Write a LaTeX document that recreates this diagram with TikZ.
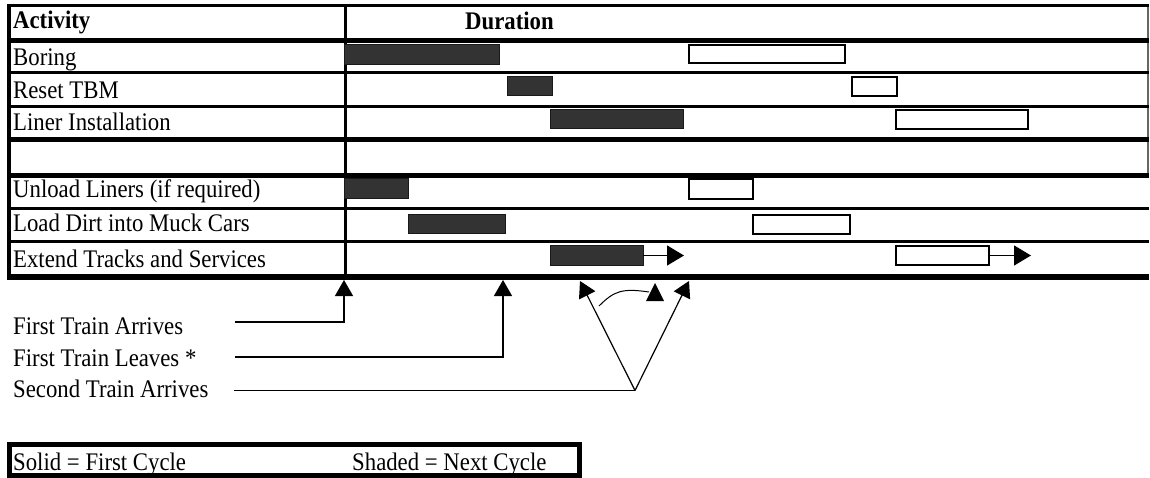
\documentclass[tikz,border=0pt]{standalone}
\usepackage{fontspec}
\setmainfont{Liberation Serif}[FakeStretch=0.9]
\usetikzlibrary{arrows.meta}
\begin{document}
\begin{tikzpicture}[x=1pt,y=-1pt,
  lbl/.style={anchor=base west,inner sep=0pt,font=\fontsize{25.3}{28}\selectfont},
  hdr/.style={anchor=base west,inner sep=0pt,font=\fontsize{25.3}{28}\selectfont\bfseries},
  heavyrule/.style={line width=5pt},
  midrule/.style={line width=3pt},
  solidbar/.style={fill=black!80,draw=black!90,line width=1pt},
  openbar/.style={fill=white,draw=black,line width=1.5pt},
  conn/.style={line width=1.2pt},
  tipped/.style={-{Triangle[length=16pt,width=18pt]}}
]
\useasboundingbox (0,0) rectangle (1150,478);
% table frame
\draw[line width=1.5pt,black!60] (1148,4) -- (1148,177);
\draw[line width=3.5pt] (7,5.5) -- (1149,5.5);
\draw[line width=4.5pt] (7,40.5) -- (1149,40.5);
\draw[midrule] (7,72.5) -- (1149,72.5);
\draw[midrule] (7,106.5) -- (1149,106.5);
\draw[heavyrule] (7,140) -- (1149,140);
\draw[heavyrule] (7,175.5) -- (1149,175.5);
\draw[midrule] (7,209) -- (1149,209);
\draw[midrule] (7,241.5) -- (1149,241.5);
\draw[line width=5.5pt] (7,277) -- (1149,277);
\draw[line width=4pt] (9,4) -- (9,279.5);
\draw[midrule] (345,4) -- (345,279.5);
% headers
\node[hdr] (act) at (13,29) {Activity};
\node[hdr] (dur) at (465,30) {Duration};
% row labels
\node[lbl] (boring) at (13,66) {Boring};
\node[lbl] (reset) at (13,99) {Reset TBM};
\node[lbl] (liner) at (13,131) {Liner Installation};
\node[lbl] (unload) at (13,198) {Unload Liners (if required)};
\node[lbl] (load) at (13,232) {Load Dirt into Muck Cars};
\node[lbl] (extend) at (13,267) {Extend Tracks and Services};
% bars
\draw[solidbar] (344,45) rectangle (499,65);
\draw[openbar] (689,45) rectangle (845,63);
\draw[solidbar] (507,77) rectangle (552,96);
\draw[openbar] (852,77) rectangle (897,96);
\draw[solidbar] (550,110) rectangle (683,129);
\draw[openbar] (896,110) rectangle (1028,129);
\draw[solidbar] (344,179) rectangle (408,199);
\draw[openbar] (689,179) rectangle (753,199);
\draw[solidbar] (408,215) rectangle (505,234);
\draw[openbar] (753,215) rectangle (850,234);
\draw[solidbar] (550,246) rectangle (643,265);
\draw[openbar] (896,246) rectangle (989,265);
\coordinate (e1s) at (643,255.5);
\coordinate (e1e) at (684,255.5);
\coordinate (e2s) at (989,255.5);
\coordinate (e2e) at (1031,255.5);
\draw[conn,-{Triangle[length=17pt,width=20pt]}] (e1s) -- (e1e);
\draw[conn,-{Triangle[length=17pt,width=20pt]}] (e2s) -- (e2e);
% bottom labels
\node[lbl] (fta) at (13,334) {First Train Arrives};
\node[lbl] (ftl) at (13,366) {First Train Leaves *};
\node[lbl] (sta) at (13,397) {Second Train Arrives};
\coordinate (a1) at (235,322);
\coordinate (a1t) at (344,280);
\coordinate (a2) at (235,357);
\coordinate (a2t) at (503,280);
\coordinate (a3) at (234,390.5);
\coordinate (apex) at (635,390.5);
\coordinate (vl) at (580,281);
\coordinate (vr) at (689,281);
\draw[conn,tipped] (a1) -| (a1t);
\draw[conn,tipped] (a2) -| (a2t);
\draw[conn] (a3) -- (apex);
\draw[conn,tipped] (apex) -- (vl);
\draw[conn,tipped] (apex) -- (vr);
\coordinate (cs) at (599,306);
\coordinate (ce) at (649,292);
\draw[line width=1pt] (cs) .. controls (614,291) and (622,288) .. (ce);
\coordinate (mt) at (655,283);
\fill (mt) -- (664,301) -- (646,301) -- cycle;
% legend
\draw[line width=5pt] (9.5,444.5) rectangle (579.5,475.5);
\node[lbl] (solid) at (13,470) {Solid = First Cycle};
\node[lbl] (shaded) at (352,470) {Shaded = Next Cycle};
\end{tikzpicture}
\end{document}
